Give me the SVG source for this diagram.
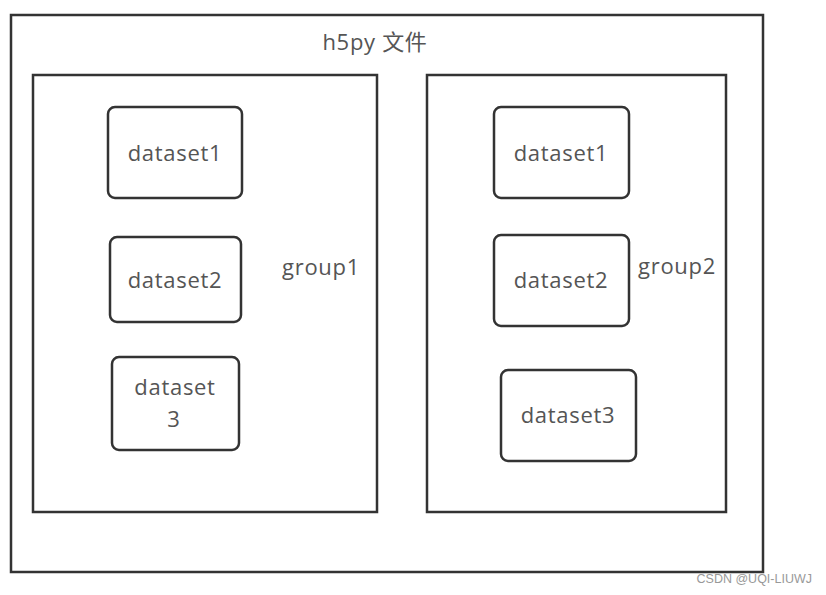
<svg xmlns="http://www.w3.org/2000/svg" width="826" height="595" viewBox="0 0 826 595">
<style>
.frame{fill:#fff;stroke:#333;stroke-width:2.5}
.ds{fill:#fff;stroke:#333;stroke-width:2.5}
.t{font-family:"Open Sans","Noto Sans CJK SC",sans-serif;font-size:22px;letter-spacing:0.7px;fill:#555;text-anchor:middle}
.wm{font-family:"Liberation Sans",Arial,sans-serif;font-size:12.5px;fill:#999;text-anchor:end}
</style>
<rect width="826" height="595" fill="#fff"/>
<g id="file">
<rect class="frame" x="11" y="15" width="752" height="557"/>
<text class="t" x="375" y="50">h5py 文件</text>
</g>
<g id="group1">
<rect class="frame" x="33" y="75" width="344" height="437"/>
<text class="t" x="321" y="275">group1</text>
</g>
<g id="group2">
<rect class="frame" x="427" y="75" width="299" height="437"/>
<text class="t" x="677" y="274">group2</text>
</g>
<g id="g1-dataset1">
<rect class="ds" x="108" y="107" width="134" height="91" rx="7"/>
<text class="t" x="175" y="161">dataset1</text>
</g>
<g id="g1-dataset2">
<rect class="ds" x="110" y="237" width="131" height="85" rx="7"/>
<text class="t" x="175" y="288">dataset2</text>
</g>
<g id="g1-dataset3">
<rect class="ds" x="112" y="357" width="127" height="93" rx="7"/>
<text class="t" x="175" y="395">dataset</text>
<text class="t" x="174" y="427">3</text>
</g>
<g id="g2-dataset1">
<rect class="ds" x="494" y="107" width="135" height="91" rx="7"/>
<text class="t" x="561" y="161">dataset1</text>
</g>
<g id="g2-dataset2">
<rect class="ds" x="494" y="235" width="135" height="91" rx="7"/>
<text class="t" x="561" y="288">dataset2</text>
</g>
<g id="g2-dataset3">
<rect class="ds" x="501" y="370" width="135" height="91" rx="7"/>
<text class="t" x="568" y="423">dataset3</text>
</g>
<g id="connectors"></g>
<text class="wm" x="812" y="583">CSDN @UQI-LIUWJ</text>
</svg>
